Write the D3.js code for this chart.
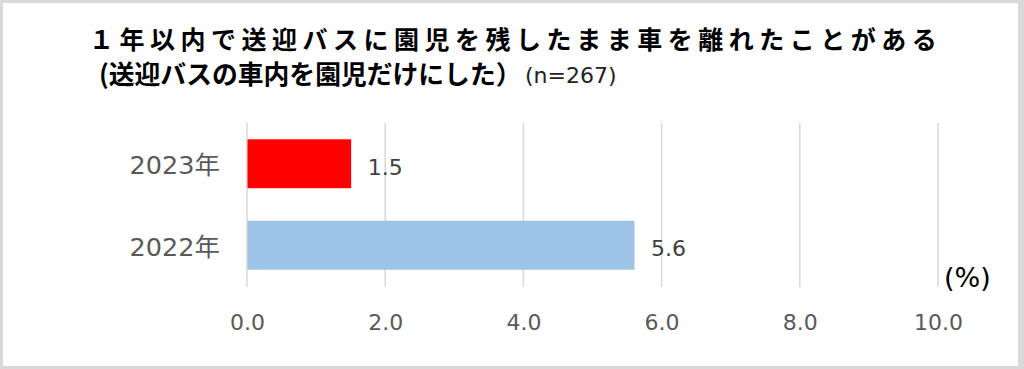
<!DOCTYPE html>
<html>
<head>
<meta charset="utf-8">
<script src="https://cdn.jsdelivr.net/npm/d3@7"></script>
<style>
  html, body { margin: 0; padding: 0; background: #fff; }
  svg { display: block; }
</style>
</head>
<body>
<svg id="chart" width="1024" height="369"></svg>
<script>
// data
const categories = ["2023年", "2022年"];
const values = [1.5, 5.6];
const barColors = ["#ff0000", "#9dc3e6"];
const tickValues = [0, 2, 4, 6, 8, 10];
const titleLine1 = "１年以内で送迎バスに園児を残したまま車を離れたことがある";
const titleLine2 = "(送迎バスの車内を園児だけにした）";
const sampleNote = "(n=267)";
const unitLabel = "(%)";

const jp = "'Noto Sans CJK JP', sans-serif";
const num = "'DejaVu Sans', 'Noto Sans CJK JP', sans-serif";

var svg = d3.select("#chart"),
    margin = {top: 123, right: 86, bottom: 82, left: 247},
    width = svg.attr("width") - margin.left - margin.right,
    height = svg.attr("height") - margin.top - margin.bottom;

// frame
svg.append("rect")
    .attr("x", 0).attr("y", 0)
    .attr("width", 1024).attr("height", 369)
    .style("fill", "#d9d9d9");
svg.append("rect")
    .attr("x", 3).attr("y", 3)
    .attr("width", 1015).attr("height", 363)
    .style("fill", "#ffffff");

// title
svg.append("text")
    .attr("x", 89)
    .attr("y", 49)
    .style("font-family", jp)
    .style("font-size", "25px")
    .style("font-weight", "bold")
    .style("letter-spacing", "5.5px")
    .style("fill", "#000")
    .text(titleLine1);

svg.append("text")
    .attr("x", 99)
    .attr("y", 84)
    .style("font-family", jp)
    .style("font-size", "25.8px")
    .style("font-weight", "bold")
    .style("fill", "#000")
    .text(titleLine2);
svg.append("text")
    .attr("x", 525)
    .attr("y", 83)
    .style("font-family", num)
    .style("font-size", "22px")
    .style("fill", "#222")
    .text(sampleNote);

var xScale = d3.scaleLinear().domain([0, 10]).range([0, width]),
    yScale = d3.scaleBand().domain(categories).range([0, height - 1]).paddingInner(0.4).paddingOuter(0.2);

var g = svg.append("g")
    .attr("transform", "translate(" + margin.left + "," + margin.top + ")");

// grid
g.selectAll("line.grid")
    .data(tickValues)
    .enter()
    .append("line")
    .attr("class", "grid")
    .attr("x1", d => xScale(d))
    .attr("x2", d => xScale(d))
    .attr("y1", 0)
    .attr("y2", height)
    .style("stroke", "#d9d9d9")
    .style("stroke-width", 1.5);

// x axis
var xAxis = g.append("g")
    .attr("transform", "translate(0," + height + ")")
    .call(d3.axisBottom(xScale).tickValues(tickValues).tickSize(0).tickPadding(27).tickFormat(d3.format(".1f")));
xAxis.select(".domain").remove();
xAxis.selectAll("text")
    .style("font-family", num)
    .style("font-size", "22px")
    .style("fill", "#595959");

// y axis
var yAxis = g.append("g")
    .call(d3.axisLeft(yScale).tickSize(0).tickPadding(27));
yAxis.select(".domain").remove();
yAxis.selectAll("text")
    .attr("dy", "0.42em")
    .style("font-family", num)
    .style("font-size", "25.5px")
    .style("fill", "#595959");

// bars
g.selectAll("rect.bar")
    .data(values)
    .enter()
    .append("rect")
    .attr("class", "bar")
    .attr("x", xScale(0) + 0.5)
    .attr("y", (d, i) => yScale(categories[i]))
    .attr("width", d => xScale(d) - xScale(0))
    .attr("height", yScale.bandwidth())
    .style("fill", (d, i) => barColors[i]);

// value labels
g.selectAll("text.val")
    .data(values)
    .enter()
    .append("text")
    .attr("class", "val")
    .attr("x", d => xScale(d) + 17)
    .attr("y", (d, i) => yScale(categories[i]) + yScale.bandwidth() / 2)
    .attr("dy", "0.5em")
    .style("font-family", num)
    .style("font-size", "22px")
    .style("fill", "#404040")
    .text(d => d.toFixed(1));

// unit
svg.append("text")
    .attr("x", 944)
    .attr("y", 287)
    .style("font-family", num)
    .style("font-size", "27px")
    .style("fill", "#000")
    .text(unitLabel);
</script>
</body>
</html>
